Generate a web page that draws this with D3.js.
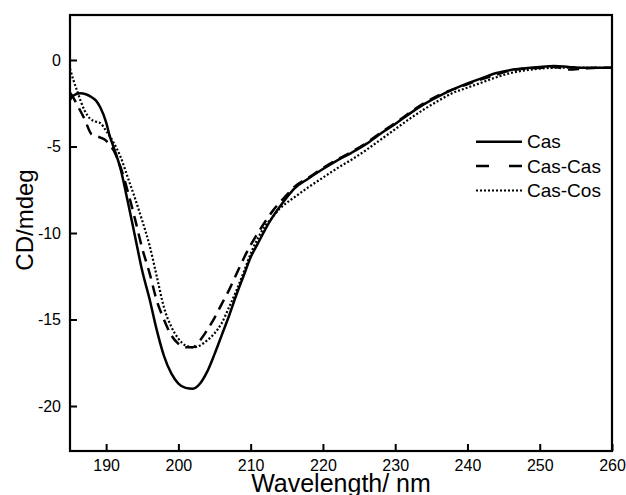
<!DOCTYPE html>
<html><head><meta charset="utf-8">
<script src="https://cdn.jsdelivr.net/npm/d3@7"></script>
<style>body{margin:0;background:#fff}svg{display:block}text{font-family:"Liberation Sans",Arial,sans-serif;fill:#000}</style>
</head><body><svg id="c" width="626" height="495"></svg>
<script>
const seriesNames = ["Cas", "Cas-Cas", "Cas-Cos"];
const xTicks = [190, 200, 210, 220, 230, 240, 250, 260];
const yTicks = [0, -5, -10, -15, -20];

const casW = [185,185.5,186.4,187.2,188,188.6,189.2,190,190.5,191,192,193,194,195,196,197,198,199,200,201,202,203,204,205,206,207,208,209,210,211,212,213,214,215,216,218,220,222,224,226,228,230,232,234,236,238,240,242,244,246,248,250,252,254,256,258,260];
const casV = [-2.3,-2.05,-1.92,-1.98,-2.15,-2.35,-2.75,-3.6,-4.4,-5.0,-6.3,-8.2,-10.2,-12.2,-13.8,-15.6,-17.1,-18.1,-18.7,-18.95,-19.0,-18.7,-18.0,-17.0,-15.9,-14.8,-13.6,-12.5,-11.4,-10.6,-9.8,-9.1,-8.5,-7.95,-7.45,-6.85,-6.3,-5.8,-5.35,-4.85,-4.25,-3.7,-3.1,-2.55,-2.1,-1.7,-1.35,-1.05,-0.75,-0.58,-0.48,-0.4,-0.35,-0.4,-0.45,-0.45,-0.45];

const casCasW = [185,185.5,186,187,188,189,189.8,190.5,191,192,193,194,195,196,197,198,199,200,201,202,203,204,205,206,207,208,209,210,211,212,213,214,215,216,218,220,222,224,226,228,230,232,234,236,238,240,242,244,246,248,250,252,254,256,258,260];
const casCasV = [-1.9,-2.2,-2.6,-3.4,-4.3,-4.45,-4.6,-4.9,-5.2,-6.2,-7.6,-9.2,-10.9,-12.3,-13.9,-15.0,-15.9,-16.4,-16.6,-16.6,-16.2,-15.6,-14.9,-14.1,-13.3,-12.4,-11.5,-10.7,-10.0,-9.35,-8.75,-8.25,-7.8,-7.35,-6.8,-6.25,-5.75,-5.3,-4.8,-4.2,-3.65,-3.05,-2.5,-2.05,-1.7,-1.4,-1.1,-0.85,-0.6,-0.5,-0.45,-0.4,-0.55,-0.5,-0.45,-0.45];

const casCosW = [185,185.5,186,186.5,187,187.8,188.5,189.2,190,190.5,191,192,193,194,195,196,197,198,199,200,201,202,203,204,205,206,207,208,209,210,211,212,213,214,215,216,218,220,222,224,226,228,230,232,234,236,238,240,242,244,246,248,250,252,254,256,258,260];
const casCosV = [-0.5,-1.2,-1.8,-2.4,-2.9,-3.4,-3.55,-3.65,-4.1,-4.4,-4.75,-5.6,-6.8,-8.0,-9.3,-10.7,-12.5,-14.3,-15.4,-16.1,-16.5,-16.6,-16.5,-16.2,-15.8,-15.2,-14.3,-13.35,-12.3,-11.2,-10.3,-9.6,-9.1,-8.6,-8.25,-7.95,-7.35,-6.8,-6.25,-5.75,-5.2,-4.6,-4.0,-3.4,-2.85,-2.35,-1.9,-1.6,-1.3,-1.0,-0.75,-0.6,-0.5,-0.45,-0.45,-0.45,-0.45,-0.45];

const L = 70, R = 612, T = 15, B = 451;
const svg = d3.select("#c");
const x = d3.scaleLinear().domain([185, 260]).range([L, R]);
const y = d3.scaleLinear().domain([-22.6, 2.6]).range([B, T]);

const styles = [
  {dash: null, legendDash: null},
  {dash: "11,7", legendDash: "13,20"},
  {dash: "2,2", legendDash: "2,2"}
];
const data = [
  d3.zip(casW, casV),
  d3.zip(casCasW, casCasV),
  d3.zip(casCosW, casCosV)
];

svg.append("clipPath").attr("id", "pc").append("rect")
  .attr("x", L).attr("y", T).attr("width", R - L).attr("height", B - T);

const line = d3.line().x(d => x(d[0])).y(d => y(d[1])).curve(d3.curveMonotoneX);
const g = svg.append("g").attr("clip-path", "url(#pc)");
data.forEach((d, i) => {
  g.append("path").datum(d).attr("d", line)
    .attr("fill", "none").attr("stroke", "#000")
    .attr("stroke-width", i === 2 ? 2.2 : 2.5)
    .attr("stroke-dasharray", styles[i].dash);
});

// axes
const xa = svg.append("g").attr("transform", `translate(0,${B})`)
  .call(d3.axisBottom(x).tickValues(xTicks).tickSizeInner(-7).tickSizeOuter(0).tickPadding(9).tickFormat(d3.format("d")));
const ya = svg.append("g").attr("transform", `translate(${L},0)`)
  .call(d3.axisLeft(y).tickValues(yTicks).tickSizeInner(-7).tickSizeOuter(0).tickPadding(9).tickFormat(d => d === 0 ? "0" : String(d)));
[xa, ya].forEach(a => {
  a.select(".domain").remove();
  a.selectAll("line").attr("stroke", "#000").attr("stroke-width", 2);
  a.selectAll("text").attr("font-size", 16).attr("font-family", "Liberation Sans, Arial, sans-serif");
});

svg.append("rect").attr("x", L).attr("y", T).attr("width", R - L).attr("height", B - T)
  .attr("fill", "none").attr("stroke", "#000").attr("stroke-width", 2.2);

svg.append("text").attr("x", (L + R) / 2).attr("y", 492).attr("text-anchor", "middle")
  .attr("font-size", 25).text("Wavelength/ nm");
svg.append("text").attr("transform", "translate(33,220) rotate(-90)").attr("text-anchor", "middle")
  .attr("font-size", 24).text("CD/mdeg");

// legend
const legY = [141.7, 165.9, 190.5];
seriesNames.forEach((n, i) => {
  svg.append("line").attr("x1", 476).attr("x2", 522).attr("y1", legY[i]).attr("y2", legY[i])
    .attr("stroke", "#000").attr("stroke-width", i === 2 ? 2 : 2.5)
    .attr("stroke-dasharray", styles[i].legendDash);
  svg.append("text").attr("x", 527).attr("y", legY[i]).attr("dy", "0.35em")
    .attr("font-size", 19).text(n);
});
</script></body></html>
